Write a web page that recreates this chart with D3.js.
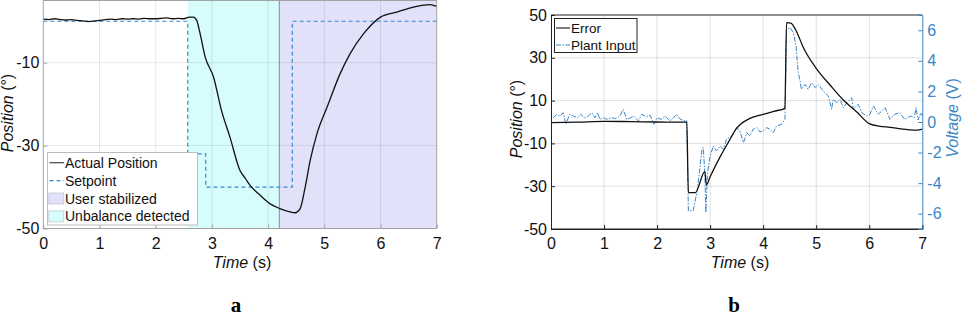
<!DOCTYPE html>
<html>
<head>
<meta charset="utf-8">
<script src="https://cdn.jsdelivr.net/npm/d3@7"></script>
<style>
  body { margin: 0; background: #fff; }
  svg { display: block; font-family: "Liberation Sans", Arial, sans-serif; }
</style>
</head>
<body>
<svg id="chart" width="962" height="316"></svg>
<script>
// ---- data (a): position tracking ----
const posTime = [0, 0.1, 0.2, 0.3, 0.4, 0.5, 0.6, 0.7, 0.8, 0.9, 1.0, 1.1, 1.2, 1.3, 1.4, 1.5, 1.6, 1.7, 1.8, 1.9, 2.0, 2.1, 2.2, 2.3, 2.4, 2.5, 2.6, 2.67, 2.73, 2.79, 2.88, 3.03, 3.17, 3.32, 3.5, 3.6, 3.68, 3.86, 4.03, 4.21, 4.39, 4.48, 4.57, 4.66, 4.75, 4.87, 5.05, 5.28, 5.46, 5.7, 6.0, 6.29, 6.59, 6.88, 7.0];
const posValue = [0.5, 0.4, 0.6, 0.4, 0.3, 0.4, 0.2, 0.1, -0.1, 0.0, 0.2, 0.4, 0.5, 0.4, 0.6, 0.5, 0.6, 0.5, 0.7, 0.6, 0.6, 0.7, 0.8, 0.6, 0.7, 0.6, 1.0, 1.0, 0.2, -3.0, -8.6, -13.5, -21.5, -27.9, -36.0, -38.0, -39.6, -42.0, -44.0, -45.2, -46.0, -46.2, -45.2, -40.0, -33.5, -27.1, -20.7, -12.7, -7.8, -3.0, 1.0, 2.2, 3.4, 4.0, 3.6];
const setTime = [0, 2.57, 2.89, 4.43, 7];
const setValue = [0, -32, -40, 0, 0];
const unbalance = [2.57, 4.2];
const stabilized = [4.2, 7];
const timeTicks = [0, 1, 2, 3, 4, 5, 6, 7];
const posTicksA = [-50, -30, -10];

// ---- data (b): error and plant input ----
const errTime = [0, 0.5, 1.0, 1.5, 2.0, 2.56, 2.59, 2.72, 2.9, 2.93, 3.0, 3.19, 3.35, 3.5, 3.75, 4.0, 4.2, 4.41, 4.44, 4.52, 4.63, 4.75, 5.0, 5.26, 5.51, 5.76, 6.01, 6.2, 6.39, 6.6, 6.77, 6.9, 7.0];
const errValue = [-0.3, -0.1, 0.3, 0.2, 0.0, -0.1, -33, -33, -23.2, -29.4, -25.6, -16.2, -9.2, -2.9, 1.7, 3.6, 5.0, 6.4, 46.4, 46.2, 42.2, 35.2, 25.1, 17.3, 10.3, 4.8, -0.9, -2.0, -2.5, -3.2, -3.7, -3.8, -3.3];
const inTime = [0.04, 0.11, 0.17, 0.23, 0.28, 0.35, 0.42, 0.5, 0.56, 0.63, 0.7, 0.77, 0.83, 0.88, 0.92, 0.99, 1.05, 1.14, 1.22, 1.3, 1.36, 1.43, 1.5, 1.56, 1.65, 1.71, 1.8, 1.87, 1.94, 2.0, 2.07, 2.15, 2.24, 2.31, 2.37, 2.44, 2.53, 2.56,
  2.59, 2.68, 2.75, 2.81, 2.84, 2.87, 2.90, 2.92, 2.95, 3.0, 3.06, 3.12, 3.19, 3.25, 3.31, 3.41, 3.5, 3.56, 3.63, 3.69, 3.75, 3.81, 3.88, 3.94, 4.0, 4.07, 4.13, 4.19, 4.25, 4.35, 4.41,
  4.44, 4.51, 4.57, 4.62, 4.66, 4.69, 4.72, 4.79, 4.85, 4.91, 4.98, 5.04, 5.13, 5.23, 5.29, 5.32, 5.39, 5.45, 5.51, 5.58, 5.67, 5.7, 5.79, 5.86, 5.95,
  6.01, 6.08, 6.17, 6.3, 6.39, 6.48, 6.57, 6.67, 6.78, 6.85, 6.88, 6.92, 6.97, 7.0];
const inValue = [0.28, 0.5, 0.39, 0.61, -0.15, 0.5, 0.39, 0.28, 0.5, 0.28, 0.39, 0.61, 0.28, 0.61, 0.17, 0.28, 0.17, 0.28, 0.22, 0.39, 0.83, 0.17, 0.28, 0.39, 0.07, 0.5, 0.35, 0.44, -0.15, 0.28, 0.17, 0.39, 0.07, 0.28, 0.5, 0.17, 0.07, 0.1,
  -5.81, -5.81, -4.62, -2.98, -1.89, -1.67, -3.31, -5.92, -3.31, -2.22, -1.57, -1.89, -1.57, -1.78, -1.13, -0.91, -0.37, -0.59, -1.35, -0.7, -0.91, -0.48, -0.37, -0.65, -0.59, -0.37, -0.48, -0.7, -0.26, -0.15, 0.17,
  6.06, 6.17, 5.84, 4.97, 3.23, 2.79, 2.14, 2.46, 2.14, 2.57, 2.25, 2.46, 2.03, 1.7, 0.83, 1.48, 1.27, 1.48, 0.94, 1.27, 1.59, 0.83, 1.16, 0.61, 0.39,
  0.5, 1.05, 0.5, 0.94, 0.17, 0.5, 0.61, 0.17, 0.39, 0.28, 0.94, 0.13, 0.61, 0.39];
const posTicksB = [-50, -30, -10, 10, 30, 50];
const voltTicks = [-6, -4, -2, 0, 2, 4, 6];

const blue = "#3a86c8";
const svg = d3.select("#chart");
const font = '"Liberation Sans", Arial, sans-serif';

// ================= panel a =================
const xA = d3.scaleLinear().domain([0, 7]).range([43.3, 436.7]);
const yA = d3.scaleLinear().domain([-50, 5]).range([228.5, 0.5]);
const gA = svg.append("g");

gA.append("rect")
    .attr("x", xA(unbalance[0])).attr("y", yA(5))
    .attr("width", xA(unbalance[1]) - xA(unbalance[0]))
    .attr("height", yA(-50) - yA(5))
    .attr("fill", "#d6fcfc");
gA.append("rect")
    .attr("x", xA(stabilized[0])).attr("y", yA(5))
    .attr("width", xA(stabilized[1]) - xA(stabilized[0]))
    .attr("height", yA(-50) - yA(5))
    .attr("fill", "#e1e1f9");
gA.append("line")
    .attr("x1", xA(stabilized[0])).attr("x2", xA(stabilized[0]))
    .attr("y1", yA(5)).attr("y2", yA(-50))
    .attr("stroke", "#8a8a9a").attr("stroke-width", 1);

// grid
gA.selectAll(".gx").data(timeTicks.slice(1, -1)).enter().append("line")
    .attr("x1", d => xA(d)).attr("x2", d => xA(d))
    .attr("y1", yA(5)).attr("y2", yA(-50))
    .attr("stroke", "#000").attr("stroke-opacity", 0.09);
gA.selectAll(".gy").data([-30, -10]).enter().append("line")
    .attr("x1", xA(0)).attr("x2", xA(7))
    .attr("y1", d => yA(d)).attr("y2", d => yA(d))
    .attr("stroke", "#000").attr("stroke-opacity", 0.09);

// setpoint
const setPts = setTime.map((t, i) => [t, setValue[i]]);
gA.append("path")
    .attr("d", d3.line().x(d => xA(d[0])).y(d => yA(d[1])).curve(d3.curveStepAfter)(setPts))
    .attr("fill", "none").attr("stroke", blue).attr("stroke-width", 1.2)
    .attr("stroke-dasharray", "4,3");

// actual position
const posPts = posTime.map((t, i) => [t, posValue[i]]);
gA.append("path")
    .attr("d", d3.line().x(d => xA(d[0])).y(d => yA(d[1])).curve(d3.curveMonotoneX)(posPts))
    .attr("fill", "none").attr("stroke", "#111").attr("stroke-width", 1.3);

// box
gA.append("rect")
    .attr("x", xA(0)).attr("y", yA(5))
    .attr("width", xA(7) - xA(0)).attr("height", yA(-50) - yA(5))
    .attr("fill", "none").attr("stroke", "#a3a3a3").attr("stroke-width", 1);

// axes
const axA = gA.append("g").attr("transform", `translate(0,${yA(-50)})`)
    .call(d3.axisBottom(xA).tickValues(timeTicks).tickSize(-4).tickPadding(9).tickFormat(d3.format("d")));
const ayA = gA.append("g").attr("transform", `translate(${xA(0)},0)`)
    .call(d3.axisLeft(yA).tickValues(posTicksA).tickSize(-4).tickPadding(4));
[axA, ayA].forEach(a => {
    a.select(".domain").remove();
    a.selectAll(".tick line").attr("stroke", "#a3a3a3");
    a.selectAll("text").attr("font-size", 16).attr("font-family", font).attr("fill", "#111");
});
ayA.selectAll("text").text(d => String(d));

gA.append("text").attr("x", 242).attr("y", 268).attr("text-anchor", "middle")
    .attr("font-size", 16).attr("fill", "#111")
    .html('<tspan font-style="italic">Time</tspan> (s)');
gA.append("text").attr("transform", "translate(13,113) rotate(-90)").attr("text-anchor", "middle")
    .attr("font-size", 16).attr("fill", "#111")
    .html('<tspan font-style="italic">Position</tspan> (°)');

// legend a
const legA = gA.append("g");
legA.append("rect").attr("x", 47.5).attr("y", 152.5).attr("width", 150).attr("height", 72.5)
    .attr("fill", "#fff").attr("stroke", "#bdbdbd");
const legItemsA = [
    { label: "Actual Position", type: "line", color: "#444", dash: null },
    { label: "Setpoint", type: "line", color: blue, dash: "4,3" },
    { label: "User stabilized", type: "rect", color: "#e1e1f9" },
    { label: "Unbalance detected", type: "rect", color: "#d6fcfc" }
];
legItemsA.forEach((d, i) => {
    const cy = 162.7 + i * 17.9;
    if (d.type === "line") {
        legA.append("line").attr("x1", 49.5).attr("x2", 64).attr("y1", cy).attr("y2", cy)
            .attr("stroke", d.color).attr("stroke-width", 1.2).attr("stroke-dasharray", d.dash);
    } else {
        legA.append("rect").attr("x", 48.8).attr("y", cy - 5.5).attr("width", 15).attr("height", 11)
            .attr("fill", d.color).attr("stroke", "#b8b8c8").attr("stroke-width", 0.6);
    }
    legA.append("text").attr("x", 65).attr("y", cy + 5).attr("font-size", 14).attr("fill", "#111").text(d.label);
});

svg.append("text").attr("x", 236).attr("y", 312).attr("text-anchor", "middle")
    .attr("font-family", '"Liberation Serif", "Times New Roman", serif')
    .attr("font-weight", "bold").attr("font-size", 21).text("a");

// ================= panel b =================
const xB = d3.scaleLinear().domain([0, 7]).range([551, 922.3]);
const yB = d3.scaleLinear().domain([-50, 50]).range([229, 15]);
const yV = d3.scaleLinear().domain([-7, 7]).range([229, 15]);
const gB = svg.append("g");

gB.selectAll(".gx").data(timeTicks.slice(1, -1)).enter().append("line")
    .attr("x1", d => xB(d)).attr("x2", d => xB(d))
    .attr("y1", yB(50)).attr("y2", yB(-50))
    .attr("stroke", "#000").attr("stroke-opacity", 0.13);
gB.selectAll(".gy").data(posTicksB.slice(1, -1)).enter().append("line")
    .attr("x1", xB(0)).attr("x2", xB(7))
    .attr("y1", d => yB(d)).attr("y2", d => yB(d))
    .attr("stroke", "#000").attr("stroke-opacity", 0.13);

const inPts = inTime.map((t, i) => [t, inValue[i]]);
gB.append("path")
    .attr("d", d3.line().x(d => xB(d[0])).y(d => yV(d[1]))(inPts))
    .attr("fill", "none").attr("stroke", blue).attr("stroke-width", 1)
    .attr("stroke-dasharray", "5,1.5,1.5,1.5");

const errPts = errTime.map((t, i) => [t, errValue[i]]);
gB.append("path")
    .attr("d", d3.line().x(d => xB(d[0])).y(d => yB(d[1])).curve(d3.curveMonotoneX)(errPts))
    .attr("fill", "none").attr("stroke", "#111").attr("stroke-width", 1.3);

// box lines
gB.append("line").attr("x1", xB(0)).attr("x2", xB(7)).attr("y1", yB(50)).attr("y2", yB(50)).attr("stroke", "#222");
gB.append("line").attr("x1", xB(0)).attr("x2", xB(7)).attr("y1", yB(-50)).attr("y2", yB(-50)).attr("stroke", "#222");

const axB = gB.append("g").attr("transform", `translate(0,${yB(-50)})`)
    .call(d3.axisBottom(xB).tickValues(timeTicks).tickSize(-4).tickPadding(9).tickFormat(d3.format("d")));
const ayB = gB.append("g").attr("transform", `translate(${xB(0)},0)`)
    .call(d3.axisLeft(yB).tickValues(posTicksB).tickSize(-4).tickPadding(4));
const ayV = gB.append("g").attr("transform", `translate(${xB(7)},0)`)
    .call(d3.axisRight(yV).tickValues(voltTicks).tickSize(-4).tickPadding(5));
[axB, ayB].forEach(a => {
    a.select(".domain").attr("stroke", "#222");
    a.selectAll(".tick line").attr("stroke", "#222");
    a.selectAll("text").attr("font-size", 16).attr("font-family", font).attr("fill", "#111");
});
ayB.selectAll("text").text(d => String(d));
ayV.select(".domain").attr("stroke", blue);
ayV.selectAll(".tick line").attr("stroke", blue);
ayV.selectAll("text").attr("font-size", 16).attr("font-family", font).attr("fill", blue).text(d => String(d));

gB.append("text").attr("x", 740).attr("y", 268).attr("text-anchor", "middle")
    .attr("font-size", 16).attr("fill", "#111")
    .html('<tspan font-style="italic">Time</tspan> (s)');
gB.append("text").attr("transform", "translate(522,119) rotate(-90)").attr("text-anchor", "middle")
    .attr("font-size", 16).attr("fill", "#111")
    .html('<tspan font-style="italic">Position</tspan> (°)');
gB.append("text").attr("transform", "translate(958,118) rotate(-90)").attr("text-anchor", "middle")
    .attr("font-size", 16).attr("fill", blue)
    .html('<tspan font-style="italic">Voltage</tspan> (V)');

// legend b
const legB = gB.append("g");
legB.append("rect").attr("x", 554.5).attr("y", 18.5).attr("width", 82.5).attr("height", 34)
    .attr("fill", "#fff").attr("stroke", "#222");
const legItemsB = [
    { label: "Error", color: "#111", dash: null },
    { label: "Plant Input", color: blue, dash: "5,1.5,1.5,1.5" }
];
legItemsB.forEach((d, i) => {
    const cy = 28 + i * 17;
    legB.append("line").attr("x1", 556).attr("x2", 570).attr("y1", cy).attr("y2", cy)
        .attr("stroke", d.color).attr("stroke-width", 1.1).attr("stroke-dasharray", d.dash);
    legB.append("text").attr("x", 571).attr("y", cy + 5).attr("font-size", 13.5).attr("fill", "#111").text(d.label);
});

svg.append("text").attr("x", 734).attr("y", 312).attr("text-anchor", "middle")
    .attr("font-family", '"Liberation Serif", "Times New Roman", serif')
    .attr("font-weight", "bold").attr("font-size", 21).text("b");
</script>
</body>
</html>
